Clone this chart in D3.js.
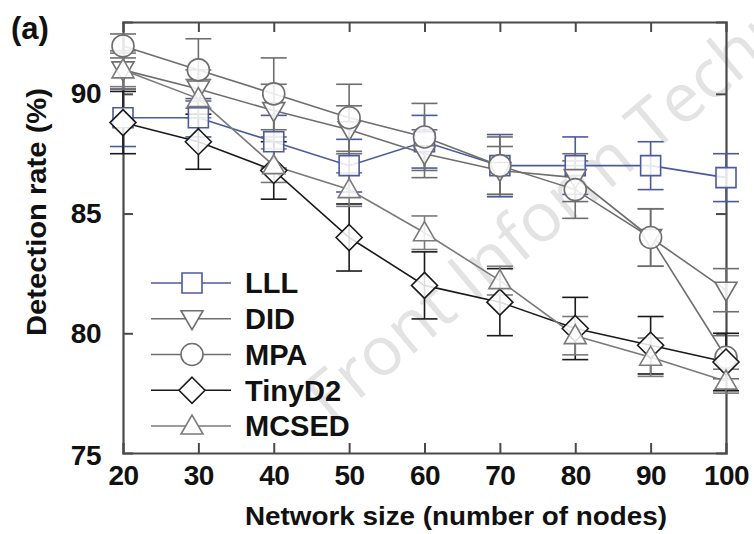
<!DOCTYPE html>
<html>
<head>
<meta charset="utf-8">
<script src="https://cdn.jsdelivr.net/npm/d3@7"></script>
<style>
  body { margin: 0; background: #fff; }
  svg text { font-family: "Liberation Sans", Arial, sans-serif; font-weight: bold; }
</style>
</head>
<body>
<svg id="chart" width="754" height="534"></svg>
<script>
// network sizes
let sizes = [20, 30, 40, 50, 60, 70, 80, 90, 100]
let yTicks = [75, 80, 85, 90]

let lllRate   = [89, 89, 88, 87, 88, 87, 87, 87, 86.5]
let lllErr    = [1.2, 0.8, 1.1, 1.1, 1.1, 1.3, 1.2, 1.0, 1.0]
let didRate   = [91, 90.2, 89.3, 88.5, 87.5, 86.8, 86.5, 84, 81.8]
let didErr    = [0.8, 0.8, 1.1, 1.0, 1.0, 1.0, 1.0, 1.2, 0.9]
let mpaRate   = [92, 91, 90, 89, 88.2, 87, 86, 84, 79]
let mpaErr    = [0.5, 1.3, 1.5, 1.4, 1.4, 1.2, 1.2, 1.2, 0.9]
let tinyRate  = [88.8, 88, 86.8, 84, 82, 81.3, 80.2, 79.5, 78.8]
let tinyErr   = [1.3, 1.15, 1.2, 1.4, 1.4, 1.4, 1.3, 1.2, 1.2]
let mcsedRate = [91, 89.8, 87, 86, 84.2, 82.2, 79.9, 79.0, 78.0]
let mcsedErr  = [0.7, 0.8, 0.7, 0.7, 0.7, 0.6, 0.8, 0.8, 0.5]

let seriesNames = ['LLL', 'DID', 'MPA', 'TinyD2', 'MCSED']

let series = [
    {name: 'LLL', rate: lllRate, err: lllErr, color: '#4c5a9c', shape: 'square'},
    {name: 'DID', rate: didRate, err: didErr, color: '#6e6e6e', shape: 'down'},
    {name: 'MPA', rate: mpaRate, err: mpaErr, color: '#6e6e6e', shape: 'circle'},
    {name: 'TinyD2', rate: tinyRate, err: tinyErr, color: '#1a1a1a', shape: 'diamond'},
    {name: 'MCSED', rate: mcsedRate, err: mcsedErr, color: '#7a7a7a', shape: 'up'}
]

let pad_left = 123
let pad_right = 28
let pad_top = 22
let pad_bottom = 81
let W = 754, H = 534

let svg = d3.select('#chart')

// faint watermark behind the plot
svg.append('text').text('Front Inform Technol Electron Eng')
   .attr('transform', 'translate(330,424) rotate(-40)')
   .style('font-weight', 'normal').style('font-family', '"Open Sans", sans-serif')
   .style('font-size', '68px').attr('fill', '#e3e3e3')

let xScale = d3.scaleLinear().domain([20, 100]).range([pad_left, W - pad_right])
let yScale = d3.scaleLinear().domain([75, 93]).range([H - pad_bottom, pad_top])

function markerPath(shape){
    if (shape === 'square') return 'M-10,-10H10V10H-10Z'
    if (shape === 'circle') return d3.symbol(d3.symbolCircle, 380)()
    if (shape === 'diamond') return 'M0,-13L13,0L0,13L-13,0Z'
    if (shape === 'down') return 'M-11,-8L11,-8L0,11Z'
    return 'M-11,8L11,8L0,-11Z'
}

// axis frame
let frameColor = '#4a4a4a'
let axisBottom = d3.axisBottom(xScale).tickValues(sizes).tickSize(-10).tickPadding(12)
let gx = svg.append('g').attr('transform', 'translate(0,' + (H - pad_bottom) + ')').call(axisBottom)
let axisLeft = d3.axisLeft(yScale).tickValues(yTicks).tickSize(-10).tickPadding(22)
let gy = svg.append('g').attr('transform', 'translate(' + pad_left + ',0)').call(axisLeft)
let gTop = svg.append('g').attr('transform', 'translate(0,' + pad_top + ')')
    .call(d3.axisTop(xScale).tickValues(sizes).tickSize(-10).tickFormat(''))
let gRight = svg.append('g').attr('transform', 'translate(' + (W - pad_right) + ',0)')
    .call(d3.axisRight(yScale).tickValues(yTicks).tickSize(-10).tickFormat(''))

for (let g of [gx, gy, gTop, gRight]){
    g.select('.domain').attr('stroke', frameColor).attr('stroke-width', 2.2)
    g.selectAll('.tick line').attr('stroke', frameColor).attr('stroke-width', 2)
    g.selectAll('.tick text').attr('fill', '#111').style('font-size', '28px').style('letter-spacing', '-0.5px')
}
// hide end ticks that sit on the frame corners
gx.selectAll('.tick line').filter(d => d === 20 || d === 100).remove()
gTop.selectAll('.tick line').filter(d => d === 20 || d === 100).remove()
gy.selectAll('.tick line').filter(d => d === 75).remove()
gRight.selectAll('.tick line').filter(d => d === 75).remove()
gy.selectAll('.tick text').attr('dy', d => d === 75 ? '0.42em' : '0.32em')
gx.selectAll('.tick text').attr('dy', '0.72em')

// axis titles
svg.append('text').text('Network size (number of nodes)')
   .attr('x', 456).attr('y', 525).attr('text-anchor', 'middle')
   .attr('textLength', 422).attr('lengthAdjust', 'spacingAndGlyphs')
   .style('font-size', '26px').attr('fill', '#111')
svg.append('text').text('Detection rate (%)')
   .attr('transform', 'translate(46,212) rotate(-90)').attr('text-anchor', 'middle')
   .attr('textLength', 248).attr('lengthAdjust', 'spacingAndGlyphs')
   .style('font-size', '27px').attr('fill', '#111')
svg.append('text').text('(a)').attr('x', 11).attr('y', 39)
   .style('font-size', '31px').attr('fill', '#111')

let plot = svg.append('g')

// error bars
for (let s of series){
    let g = plot.append('g')
    let pts = sizes.map((x, i) => ({x: x, y: s.rate[i], e: s.err[i]}))
    g.selectAll('line.bar').data(pts).join('line')
        .attr('x1', d => xScale(d.x)).attr('x2', d => xScale(d.x))
        .attr('y1', d => yScale(d.y - d.e)).attr('y2', d => yScale(d.y + d.e))
        .attr('stroke', s.color).attr('stroke-width', 1.6)
    for (let sign of [-1, 1]){
        g.selectAll(null).data(pts).join('line')
            .attr('x1', d => xScale(d.x) - 13).attr('x2', d => xScale(d.x) + 13)
            .attr('y1', d => yScale(d.y + sign * d.e)).attr('y2', d => yScale(d.y + sign * d.e))
            .attr('stroke', s.color).attr('stroke-width', 1.6)
    }
}

// lines
let line = d3.line().x((d, i) => xScale(sizes[i])).y(d => yScale(d))
for (let s of series){
    plot.append('path').datum(s.rate).attr('d', line)
        .attr('fill', 'none').attr('stroke', s.color).attr('stroke-width', 1.6)
}

// markers
for (let s of series){
    plot.append('g').selectAll('path').data(s.rate).join('path')
        .attr('d', markerPath(s.shape))
        .attr('transform', (d, i) => 'translate(' + xScale(sizes[i]) + ',' + yScale(d) + ')')
        .attr('fill', 'white').attr('fill-opacity', 0.85)
        .attr('stroke', s.color).attr('stroke-width', 1.6)
}

// legend
let legend = svg.append('g')
let legendY = d3.scalePoint().domain(seriesNames).range([283, 426])
for (let s of series){
    let y = legendY(s.name)
    legend.append('line').attr('x1', 151).attr('x2', 231).attr('y1', y).attr('y2', y)
          .attr('stroke', s.color).attr('stroke-width', 1.6)
    legend.append('path').attr('d', markerPath(s.shape))
          .attr('transform', 'translate(' + 192 + ',' + y + ')')
          .attr('fill', 'white').attr('stroke', s.color).attr('stroke-width', 1.6)
    legend.append('text').text(s.name).attr('x', 245).attr('y', y).attr('dy', '0.36em')
          .style('font-size', '29px').attr('fill', '#111')
}
</script>
</body>
</html>
